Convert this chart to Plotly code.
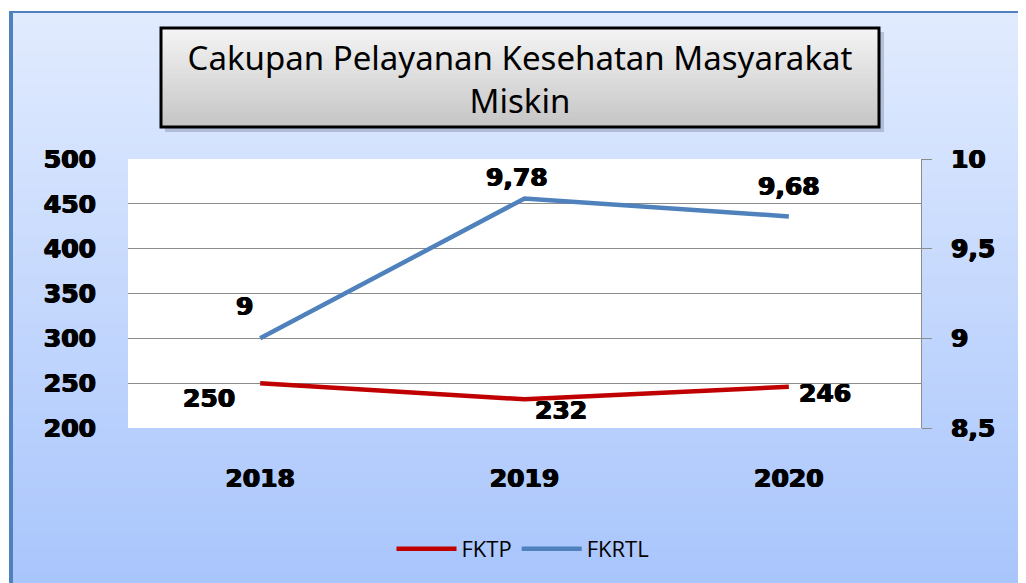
import plotly.graph_objects as go

# data
years = ["2018", "2019", "2020"]
fktp = [250, 232, 246]
fkrtl = [9, 9.78, 9.68]

# the page body has an 8px margin, so the figure is drawn 8px in from the window
OFF = 8
W, H = 1026 - OFF, 583 - OFF
L, R, T, B = 128 - OFF, 921 - OFF, 159 - OFF, 428 - OFF   # plot area in pixels

RED = "#C00000"
BLUE = "#4F81BD"
HEAVY = "0.7px 0 0 #000, -0.7px 0 0 #000, 0 0.4px 0 #000"
TICK_FONT = dict(family="Arial Black, DejaVu Sans", size=25, color="black",
                 weight="bold", shadow=HEAVY)


def px_x(px):
    # px in reference-window pixels
    return (px - OFF - L) / (R - L)


def px_y(py):
    return (B - (py - OFF)) / (B - T)


def mix(c1, c2, t):
    return "rgb(%d,%d,%d)" % tuple(round(a + (b - a) * t) for a, b in zip(c1, c2))


def fmt(v):
    return ("%g" % v).replace(".", ",")


fig = go.Figure()

fig.add_trace(go.Scatter(
    x=years, y=fktp, name="FKTP", mode="lines",
    line=dict(color=RED, width=4.5)
))
fig.add_trace(go.Scatter(
    x=years, y=fkrtl, name="FKRTL", mode="lines", yaxis="y2",
    line=dict(color=BLUE, width=4.5)
))

shapes = []
# outer blue border
shapes.append(dict(type="rect", xref="paper", yref="paper", layer="below",
                   x0=px_x(9), x1=px_x(1040), y0=px_y(11), y1=px_y(600),
                   fillcolor=BLUE, line=dict(width=0)))
# background gradient
top_c, bot_c = (225, 235, 254), (168, 197, 252)
step = 5
for y in range(13, 590, step):
    t = (y - 13) / (583 - 13)
    shapes.append(dict(type="rect", xref="paper", yref="paper", layer="below",
                       x0=px_x(13), x1=px_x(1040), y0=px_y(y), y1=px_y(y + step + 1),
                       fillcolor=mix(top_c, bot_c, min(t, 1)), line=dict(width=0)))
# white plot area
shapes.append(dict(type="rect", xref="paper", yref="paper", layer="below",
                   x0=0, x1=1, y0=0, y1=1, fillcolor="white", line=dict(width=0)))

# title box: shadow, gray gradient, black border
bx0, bx1, by0, by1 = 161, 879, 28, 127
shapes.append(dict(type="rect", xref="paper", yref="paper", layer="below",
                   x0=px_x(bx0 + 4), x1=px_x(bx1 + 5), y0=px_y(by0 + 4), y1=px_y(by1 + 5),
                   fillcolor="rgba(90,100,130,0.3)", line=dict(width=0)))
g_top, g_bot = (244, 244, 244), (196, 196, 196)
for y in range(by0, by1, 3):
    t = (y - by0) / (by1 - by0)
    shapes.append(dict(type="rect", xref="paper", yref="paper", layer="below",
                       x0=px_x(bx0), x1=px_x(bx1), y0=px_y(y), y1=px_y(min(y + 4, by1)),
                       fillcolor=mix(g_top, g_bot, t), line=dict(width=0)))
shapes.append(dict(type="rect", xref="paper", yref="paper", layer="above",
                   x0=px_x(bx0), x1=px_x(bx1), y0=px_y(by0), y1=px_y(by1),
                   line=dict(color="black", width=3)))

# data labels (x given as category index)
annotations = []
blue_shift = [(-16, 32), (-8, 21), (0, 30)]
red_shift = [(-51, -15), (36, -11), (36, -7)]
for i, (v, (dx, dy)) in enumerate(zip(fkrtl, blue_shift)):
    annotations.append(dict(x=i, y=v, xref="x", yref="y2", text=fmt(v), showarrow=False,
                            xshift=dx, yshift=dy, font=TICK_FONT))
for i, (v, (dx, dy)) in enumerate(zip(fktp, red_shift)):
    annotations.append(dict(x=i, y=v, xref="x", yref="y", text=fmt(v), showarrow=False,
                            xshift=dx, yshift=dy, font=TICK_FONT))

fig.update_layout(
    width=W, height=H,
    margin=dict(l=L, r=W - R, t=T, b=H - B, pad=0),
    paper_bgcolor="white",
    plot_bgcolor="white",
    separators=",.",
    shapes=shapes,
    annotations=annotations,
    title=dict(
        text="Cakupan Pelayanan Kesehatan Masyarakat<br>Miskin",
        x=px_x(520), xref="paper", xanchor="center",
        y=1 - (70 - OFF) / H, yref="container", yanchor="middle",
        font=dict(family="Noto Sans, Open Sans", size=33, color="black"),
    ),
    showlegend=True,
    legend=dict(
        orientation="h", x=px_x(523), xanchor="center", y=px_y(549), yanchor="middle",
        font=dict(family="Open Sans, Noto Sans", size=22, color="black"),
        bgcolor="rgba(0,0,0,0)", itemwidth=60,
    ),
    xaxis=dict(
        type="category", range=[-0.5, 2.5],
        showgrid=False, showline=False, zeroline=False, ticks="",
        tickfont=TICK_FONT, ticklabelstandoff=33,
    ),
    yaxis=dict(
        range=[200, 500], dtick=50, showgrid=True, gridcolor="#8C8C8C", gridwidth=1,
        zeroline=False, showline=False, ticks="",
        tickfont=TICK_FONT, ticklabelstandoff=31,
    ),
    yaxis2=dict(
        overlaying="y", side="right", range=[8.5, 10], dtick=0.5,
        showgrid=False, zeroline=False, showline=True, linecolor="#8C8C8C", linewidth=1,
        ticks="outside", ticklen=10, tickcolor="#8C8C8C",
        tickfont=TICK_FONT, ticklabelstandoff=14,
    ),
)

fig.write_html("out.html")
